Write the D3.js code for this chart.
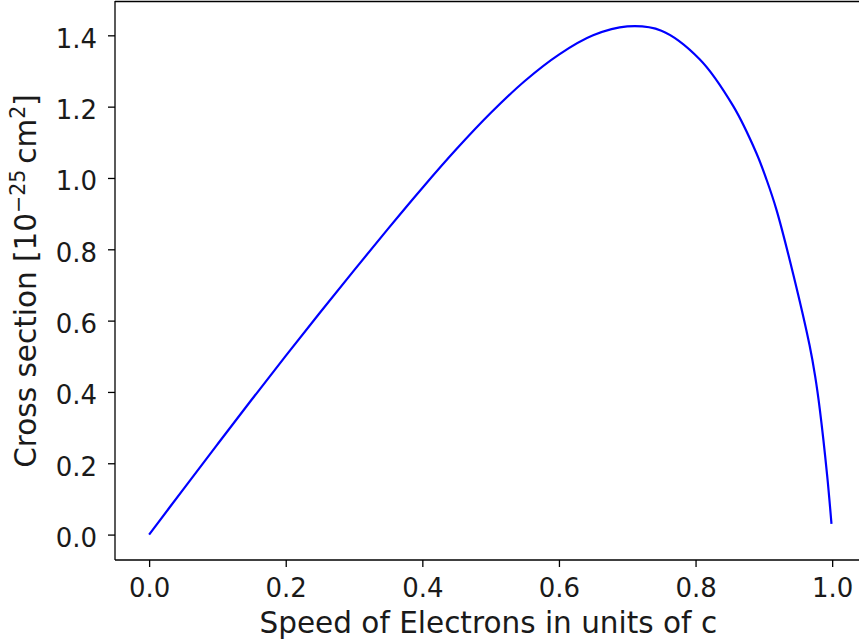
<!DOCTYPE html>
<html>
<head>
<meta charset="utf-8">
<script src="https://cdn.jsdelivr.net/npm/d3@7"></script>
<style>
  html, body { margin: 0; padding: 0; background: #fff; }
  svg { display: block; font-family: "DejaVu Sans", sans-serif; }
</style>
</head>
<body>
<svg id="chart" width="859" height="643"></svg>
<script>
// Data
const speed = [0, 0.05, 0.10, 0.15, 0.20, 0.25, 0.30, 0.35, 0.40, 0.45, 0.50, 0.55, 0.60, 0.65, 0.70, 0.75, 0.806, 0.855, 0.889, 0.904, 0.9186, 0.943, 0.967, 0.975, 0.982, 0.9927, 0.999];
const crossSection = [0, 0.127, 0.253, 0.378, 0.501, 0.622, 0.741, 0.858, 0.972, 1.081, 1.182, 1.272, 1.346, 1.400, 1.425, 1.413, 1.333, 1.202, 1.070, 0.995, 0.910, 0.730, 0.530, 0.445, 0.350, 0.165, 0.030];
const xTicks = [0, 0.2, 0.4, 0.6, 0.8, 1.0];
const yTicks = [0, 0.2, 0.4, 0.6, 0.8, 1.0, 1.2, 1.4];
const xLabel = "Speed of Electrons in units of c";

const svg = d3.select("#chart");
const mLeft = 115, mRight = 865.6, mTop = 1, mBottom = 560;
const ink = "#1a1a1a";

const xExt = d3.extent(speed), yExt = d3.extent(crossSection);
const xm = (xExt[1] - xExt[0]) * 0.05, ym = (yExt[1] - yExt[0]) * 0.05;
const x = d3.scaleLinear().domain([xExt[0] - xm, xExt[1] + xm]).range([mLeft, mRight]);
const y = d3.scaleLinear().domain([yExt[0] - ym, yExt[1] + ym]).range([mBottom, mTop]);

const data = speed.map((s, i) => [s, crossSection[i]]);

// line
svg.append("path")
  .datum(data)
  .attr("fill", "none")
  .attr("stroke", "#0000ff")
  .attr("stroke-width", 2.2)
  .attr("stroke-linejoin", "round")
  .attr("stroke-linecap", "butt")
  .attr("d", d3.line().x(d => x(d[0])).y(d => y(d[1])).curve(d3.curveCatmullRom.alpha(0.5)));

// axes
const xAxis = svg.append("g").attr("transform", `translate(0,${mBottom})`)
  .call(d3.axisBottom(x).tickValues(xTicks).tickFormat(d3.format(".1f")).tickSize(7).tickPadding(10));
const yAxis = svg.append("g").attr("transform", `translate(${mLeft},0)`)
  .call(d3.axisLeft(y).tickValues(yTicks).tickFormat(d3.format(".1f")).tickSize(7).tickPadding(11));

[xAxis, yAxis].forEach(g => {
  g.select(".domain").remove();
  g.selectAll(".tick line").attr("stroke", "#000").attr("stroke-width", 1.3);
  g.selectAll(".tick text").attr("fill", ink).attr("font-size", 26)
    .attr("font-family", "DejaVu Sans, sans-serif");
});
xAxis.selectAll(".tick text").attr("dy", null).attr("y", 37);
yAxis.selectAll(".tick text").attr("dy", null).attr("y", 12);

// spines
const sp = svg.append("g").attr("stroke", "#000").attr("stroke-width", 1.3).attr("fill", "none");
sp.append("line").attr("x1", mLeft).attr("x2", mLeft).attr("y1", mTop).attr("y2", mBottom);
sp.append("line").attr("x1", mLeft).attr("x2", mRight).attr("y1", mBottom).attr("y2", mBottom);
sp.append("line").attr("x1", mLeft).attr("x2", mRight).attr("y1", mTop + 0.5).attr("y2", mTop + 0.5);
sp.append("line").attr("x1", mRight).attr("x2", mRight).attr("y1", mTop).attr("y2", mBottom);

// x label
svg.append("text")
  .attr("x", (mLeft + mRight) / 2 - 2).attr("y", 633)
  .attr("text-anchor", "middle").attr("font-size", 29.5).attr("fill", ink)
  .text(xLabel);

// y label with superscripts
const yl = svg.append("text")
  .attr("transform", `translate(36,281) rotate(-90)`)
  .attr("text-anchor", "middle").attr("font-size", 29.5).attr("fill", ink);
yl.append("tspan").text("Cross section [10");
yl.append("tspan").attr("font-size", 20.5).attr("dy", -11.5).text("\u221225");
yl.append("tspan").attr("dy", 11.5).text("\u2009cm");
yl.append("tspan").attr("font-size", 20.5).attr("dy", -11.5).text("2");
yl.append("tspan").attr("dy", 11.5).text("]");
</script>
</body>
</html>
